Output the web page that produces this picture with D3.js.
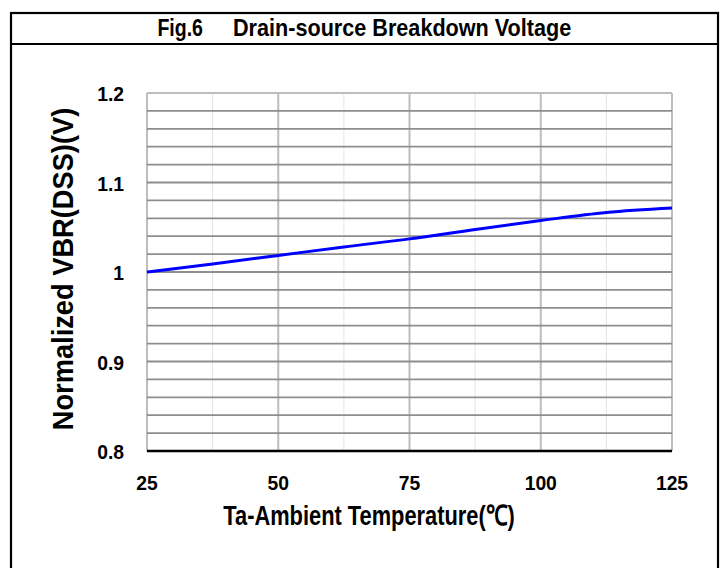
<!DOCTYPE html>
<meta charset="utf-8">
<style>
    body { margin: 0; background: #fff; }
    text { font-family: "Liberation Sans Narrow", "Arial Narrow", "Liberation Sans", Arial, sans-serif; font-weight: bold; fill: #000; }
</style>
<svg width="726" height="568"></svg>
<script src="https://d3js.org/d3.v7.min.js"></script>
<script>
    // data
    var temps = [25, 37.5, 50, 62.5, 75, 87.5, 100, 112.5, 125];
    var vbr = [1.0, 1.009, 1.0185, 1.028, 1.037, 1.0475, 1.0575, 1.0665, 1.0715];
    var xTicks = [25, 50, 75, 100, 125];
    var yTicks = [0.8, 0.9, 1.0, 1.1, 1.2];
    var yTickLabels = ['0.8', '0.9', '1', '1.1', '1.2'];

    var svg = d3.select('svg');
    var margin = {top: 93, left: 147, right: 54, bottom: 117},
        width = 726 - margin.left - margin.right,
        height = 568 - margin.top - margin.bottom;

    // narrow bold text: no condensed font installed, so squeeze horizontally
    function label(parent, x, y, size, sx, anchor, str, rot) {
        return parent.append('text')
            .attr('transform', 'translate(' + x + ',' + y + ')' + (rot ? ' rotate(' + rot + ')' : '') + ' scale(' + sx + ',1)')
            .attr('text-anchor', anchor)
            .style('font-size', size + 'px')
            .text(str);
    }

    // frame and title box
    svg.append('rect')
        .attr('x', 11).attr('y', 13)
        .attr('width', 707).attr('height', 570)
        .attr('fill', 'none').attr('stroke', '#000').attr('stroke-width', 2.2);
    svg.append('line')
        .attr('x1', 11).attr('x2', 718).attr('y1', 44).attr('y2', 44)
        .attr('stroke', '#000').attr('stroke-width', 2.2);
    label(svg, 203, 36, 23, 0.85, 'end', 'Fig.6');
    label(svg, 233, 36, 23, 0.94, 'start', 'Drain-source Breakdown Voltage');

    var x = d3.scaleLinear().domain([25, 125]).range([0, width]);
    var y = d3.scaleLinear().domain([0.8, 1.2]).range([height, 0]);

    var g = svg.append('g')
        .attr('transform', 'translate(' + margin.left + ',' + margin.top + ')');

    // minor vertical grid
    g.append('g')
        .selectAll('line')
        .data(d3.range(37.5, 125, 25))
        .enter().append('line')
        .attr('x1', d => x(d)).attr('x2', d => x(d))
        .attr('y1', 0).attr('y2', height)
        .attr('stroke', '#e4e4e4').attr('stroke-width', 1);

    // major vertical grid
    g.append('g')
        .selectAll('line')
        .data(xTicks)
        .enter().append('line')
        .attr('x1', d => x(d)).attr('x2', d => x(d))
        .attr('y1', 0).attr('y2', height)
        .attr('stroke', '#bdbdbd').attr('stroke-width', 2);

    // horizontal grid every 0.02
    g.append('g')
        .selectAll('line')
        .data(d3.range(1, 21).map(i => 0.8 + i * 0.02))
        .enter().append('line')
        .attr('x1', 0).attr('x2', width)
        .attr('y1', d => y(d)).attr('y2', d => y(d))
        .attr('stroke', (d, i) => i === 19 ? '#bdbdbd' : '#8e8e8e')
        .attr('stroke-width', 1.8);

    // x axis line
    g.append('line')
        .attr('x1', 0).attr('x2', width)
        .attr('y1', height).attr('y2', height)
        .attr('stroke', '#000').attr('stroke-width', 2.5);

    // tick labels
    xTicks.forEach(d => label(g, x(d), height + 39, 21, 0.92, 'middle', d));
    yTicks.forEach((d, i) => label(g, -23, y(d) + 8, 21, 0.92, 'end', yTickLabels[i]));

    // curve
    var line = d3.line()
        .x((d, i) => x(temps[i]))
        .y(d => y(d))
        .curve(d3.curveMonotoneX);
    g.append('path')
        .datum(vbr)
        .attr('fill', 'none')
        .attr('stroke', '#0000ff')
        .attr('stroke-width', 3)
        .attr('d', line);

    // axis titles
    label(svg, 369, 525, 28, 0.78, 'middle', 'Ta-Ambient Temperature(℃)');
    label(svg, 73, 269, 29, 0.94, 'middle', 'Normalized VBR(DSS)(V)', -90);
</script>
